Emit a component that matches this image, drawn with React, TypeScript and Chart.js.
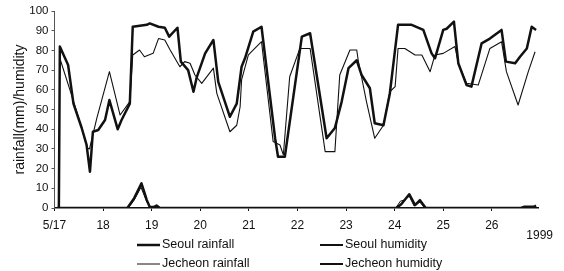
import React, { useEffect, useRef } from "react";
import { Chart, registerables } from "chart.js";

Chart.register(...registerables);

// ---- data (x in days after 5/17 00:00) ----
const dayLabels = ["5/17", "18", "19", "20", "21", "22", "23", "24", "25", "26"];
const yearLabel = "1999";
const yTitle = "rainfall(mm)/humidity";
const yTicks = [0, 10, 20, 30, 40, 50, 60, 70, 80, 90, 100];

const seoulRainDays = [0.05, 1.5, 1.64, 1.79, 1.9, 1.96, 2.04, 2.1, 2.17, 7.04, 7.14, 7.3, 7.42, 7.52, 7.64, 9.6, 9.66, 9.86, 9.91];
const seoulRainVals = [0, 0, 5, 12.5, 4, 0.5, 0.5, 1.2, 0, 0, 2, 7, 1.5, 4, 0, 0, 0.6, 0.6, 1.2];

const jecheonRainDays = [0.05, 1.52, 1.64, 1.78, 1.9, 1.98, 2.1, 2.2, 7.02, 7.12, 7.2, 7.3, 7.4, 7.52, 7.6, 7.68, 9.91];
const jecheonRainVals = [0, 0, 4, 10.5, 3, 0.5, 1, 0, 0, 3.5, 4, 6, 1, 3, 0.5, 0, 0];

const seoulHumDays = [
  0.09, 0.11, 0.28, 0.39, 0.56, 0.66, 0.73, 0.79, 0.9, 1.04, 1.13, 1.3, 1.38, 1.55, 1.61,
  1.9, 1.96, 2.14, 2.27, 2.36, 2.53, 2.6, 2.75, 2.86, 2.93, 3.1, 3.27, 3.37, 3.61, 3.75,
  3.85, 3.92, 4.09, 4.26, 4.54, 4.6, 4.74, 5.09, 5.26, 5.6, 5.77, 5.91, 6.05, 6.22, 6.32,
  6.49, 6.59, 6.77, 6.9, 7.07, 7.35, 7.59, 7.76, 7.83, 8.0, 8.07, 8.22, 8.31, 8.48, 8.58,
  8.79, 8.96, 9.2, 9.29, 9.48, 9.58, 9.72, 9.82, 9.91,
];
const seoulHumVals = [
  0, 82, 72.6, 53, 40.6, 32, 18.4, 38.7, 39.6, 44.7, 54.8, 40, 44.7, 53, 92,
  93, 93.7, 92, 91.5, 87, 91.5, 74.3, 70, 59, 66.6, 78.5, 85.3, 64, 46.3, 53,
  71.7, 76, 89.5, 92, 35.4, 26, 26, 87, 88.7, 35.4, 40.6, 54, 71, 75, 67.5,
  60.8, 43, 42, 58, 93, 93, 90.4, 78.5, 76, 90.4, 91, 94.6, 73.5, 62.4, 61.6,
  83.6, 86, 90.4, 74.3, 73.5, 76.8, 81, 92, 90.4,
];

const jecheonHumDays = [
  0.11, 0.35, 0.56, 0.68, 0.72, 0.87, 1.13, 1.35, 1.55, 1.61, 1.75, 1.85, 2.03, 2.14, 2.27,
  2.38, 2.58, 2.68, 2.79, 2.89, 3.03, 3.27, 3.34, 3.61, 3.75, 3.82, 3.85, 3.99, 4.26, 4.5,
  4.64, 4.71, 4.84, 5.05, 5.26, 5.57, 5.77, 5.87, 6.08, 6.22, 6.25, 6.42, 6.59, 6.77, 6.9,
  7.01, 7.07, 7.21, 7.42, 7.56, 7.73, 7.83, 8.0, 8.24, 8.31, 8.48, 8.72, 8.96, 9.2, 9.3,
  9.54, 9.75, 9.89,
];
const jecheonHumVals = [
  76, 57.4, 40.6, 30.3, 30, 45.5, 69.2, 47.2, 54, 77.7, 80.2, 76.8, 78.5, 86, 85.3,
  80.2, 71.7, 74.3, 73.5, 67.5, 63.3, 71, 58.2, 38.7, 42, 51.4, 65, 77.7, 84.4, 33.7,
  32, 27, 66.6, 81, 81, 28.6, 28.6, 67.5, 80.2, 80.2, 75, 54, 35.4, 42, 59,
  61.6, 81, 81, 77.7, 77.7, 69.2, 77.7, 78.5, 82, 73.5, 63.3, 62.4, 81, 84.4, 69.2,
  52.3, 69.2, 79.3,
];

const legendNames = ["Seoul rainfall", "Seoul humidity", "Jecheon rainfall", "Jecheon humidity"];
const legendWidths = [2.5, 2, 1, 2];

const toPts = (xs: number[], ys: number[]) => xs.map((x, i) => ({ x, y: ys[i] }));

const FONT = '"Liberation Sans", Arial, sans-serif';
const INK = "#111";

const legendPlugin = {
  id: "customLegend",
  afterDraw(chart: any) {
    const ctx = chart.ctx;
    ctx.save();
    ctx.fillStyle = INK;
    ctx.strokeStyle = INK;
    ctx.font = `12.5px ${FONT}`;
    ctx.textBaseline = "middle";
    ctx.textAlign = "left";
    const cols = [137, 320];
    const rows = [245, 264];
    legendNames.forEach((name, i) => {
      const cx = cols[i % 2];
      const cy = rows[Math.floor(i / 2)];
      ctx.lineWidth = legendWidths[i];
      ctx.beginPath();
      ctx.moveTo(cx, cy);
      ctx.lineTo(cx + 23, cy);
      ctx.stroke();
      ctx.fillText(name, cx + 25, cy);
    });
    ctx.textAlign = "right";
    ctx.font = `12px ${FONT}`;
    ctx.fillText(yearLabel, 553, 236);
    ctx.restore();
  },
};

export default function App() {
  const ref = useRef<HTMLCanvasElement | null>(null);
  useEffect(() => {
    document.body.style.margin = "0";
    const canvas = ref.current;
    if (!canvas) return;
    const chart = new Chart(canvas, {
      type: "line",
      data: {
        datasets: [
          { label: legendNames[0], data: toPts(seoulRainDays, seoulRainVals), borderColor: INK, borderWidth: 2.5 },
          { label: legendNames[1], data: toPts(seoulHumDays, seoulHumVals), borderColor: INK, borderWidth: 2.5 },
          { label: legendNames[2], data: toPts(jecheonRainDays, jecheonRainVals), borderColor: INK, borderWidth: 1 },
          { label: legendNames[3], data: toPts(jecheonHumDays, jecheonHumVals), borderColor: INK, borderWidth: 1.1 },
        ] as any,
      },
      options: {
        responsive: false,
        animation: false,
        events: [],
        layout: { autoPadding: false, padding: { top: 11, right: 26, left: 0, bottom: 0 } },
        elements: { point: { radius: 0 }, line: { tension: 0, fill: false, borderJoinStyle: "round" } },
        plugins: { legend: { display: false }, tooltip: { enabled: false } },
        scales: {
          x: {
            type: "linear",
            min: 0,
            max: 9.95,
            afterFit: (s: any) => { s.height = 63; },
            afterBuildTicks: (s: any) => { s.ticks = dayLabels.map((_, i) => ({ value: i })); },
            ticks: {
              autoSkip: false,
              maxRotation: 0,
              padding: 7,
              color: INK,
              font: { size: 12, family: FONT },
              callback: (v: any) => dayLabels[Math.round(Number(v))] ?? "",
            },
            grid: { display: true, drawOnChartArea: false, drawTicks: true, tickLength: 3, color: INK },
            border: { display: true, color: INK, width: 1.6 },
          },
          y: {
            min: 0,
            max: 100,
            afterFit: (s: any) => { s.width = 54.5; },
            afterBuildTicks: (s: any) => { s.ticks = yTicks.map((v) => ({ value: v })); },
            ticks: { padding: 3, color: INK, font: { size: 11.5, family: FONT } },
            grid: { display: true, drawOnChartArea: false, drawTicks: true, tickLength: 3, color: "#555" },
            border: { display: true, color: "#555", width: 1, dash: [2, 2] },
            title: { display: true, text: yTitle, color: INK, font: { size: 14, family: FONT }, padding: { top: 11.6, bottom: 0 } },
          },
        },
      },
      plugins: [legendPlugin],
    } as any);
    return () => chart.destroy();
  }, []);
  return (
    <div style={{ width: 564, height: 271, background: "#fff" }}>
      <canvas ref={ref} width={564} height={271} style={{ display: "block" }} />
    </div>
  );
}
